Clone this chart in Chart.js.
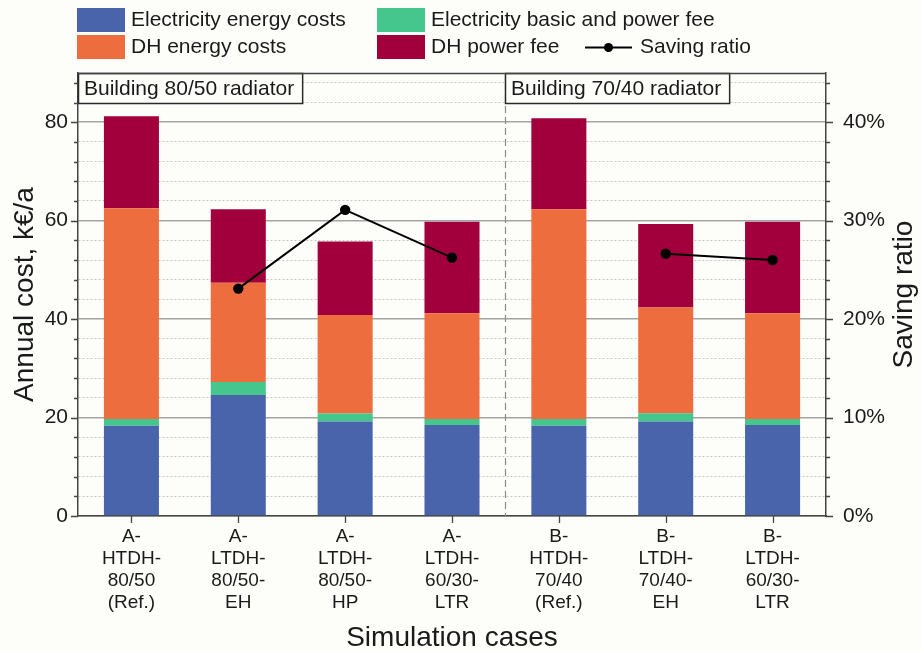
<!DOCTYPE html>
<html>
<head>
<meta charset="utf-8">
<script src="https://cdn.jsdelivr.net/npm/chart.js@4.4.1/dist/chart.umd.min.js"></script>
<style>
  html, body { margin: 0; padding: 0; background: #fdfdfa; }
  #wrap { width: 921px; height: 652px; }
</style>
</head>
<body>
<div id="wrap"><canvas id="c" width="921" height="652"></canvas></div>
<script>
// Simulation cases (multi-line tick labels)
const categories = [
  ['A-', 'HTDH-', '80/50', '(Ref.)'],
  ['A-', 'LTDH-', '80/50-', 'EH'],
  ['A-', 'LTDH-', '80/50-', 'HP'],
  ['A-', 'LTDH-', '60/30-', 'LTR'],
  ['B-', 'HTDH-', '70/40', '(Ref.)'],
  ['B-', 'LTDH-', '70/40-', 'EH'],
  ['B-', 'LTDH-', '60/30-', 'LTR']
];

// Annual cost components, k€/a
const elecEnergy = [18.35, 24.6, 19.2, 18.5, 18.35, 19.2, 18.5];
const elecBasic  = [1.35, 2.6, 1.6, 1.2, 1.35, 1.7, 1.2];
const dhEnergy   = [42.8, 20.2, 20.05, 21.5, 42.6, 21.45, 21.5];
const dhPower    = [18.7, 14.9, 14.9, 18.6, 18.5, 16.95, 18.6];

// Saving ratio, % (no value for the reference cases)
const savingRatio = [null, 23.1, 31.1, 26.25, null, 26.65, 26.0];

// Building groups: label and index of the first case in the group
const groupLabels = ['Building 80/50 radiator', 'Building 70/40 radiator'];
const groupStarts = [0, 4];

const FONT = '"Liberation Sans", Arial, Helvetica, sans-serif';
const INK = '#1a1a1a';
const AXIS = '#454545';

const isMajor = (ctx, step) => ctx.tick && Math.round(ctx.tick.value) % step === 0;

// Tick marks: long for labelled ticks, short for minor ones
const tickMarks = {
  id: 'tickMarks',
  afterDraw(chart) {
    const {ctx, chartArea: a, scales} = chart;
    ctx.save();
    ctx.strokeStyle = AXIS;
    ctx.lineWidth = 1.3;
    ctx.beginPath();
    for (let v = 0; v <= 88; v += 4) {
      const p = Math.round(scales.y.getPixelForValue(v)) + 0.5;
      const len = v % 20 === 0 ? 7 : 4;
      ctx.moveTo(a.left, p); ctx.lineTo(a.left - len, p);
    }
    for (let v = 0; v <= 44; v += 2) {
      const p = Math.round(scales.y1.getPixelForValue(v)) + 0.5;
      const len = v % 10 === 0 ? 7 : 4;
      ctx.moveTo(a.right, p); ctx.lineTo(a.right + len, p);
    }
    categories.forEach((c, i) => {
      const p = Math.round(scales.x.getPixelForValue(i)) + 0.5;
      ctx.moveTo(p, a.bottom); ctx.lineTo(p, a.bottom + 7);
    });
    ctx.stroke();
    // top frame line
    ctx.lineWidth = 1.5;
    ctx.beginPath();
    ctx.moveTo(a.left, a.top + 0.5); ctx.lineTo(a.right, a.top + 0.5);
    ctx.stroke();
    ctx.restore();
  }
};

// Group separator and labelled group boxes
const groups = {
  id: 'groups',
  beforeDatasetsDraw(chart) {
    const {ctx, chartArea: a, scales: {x}} = chart;
    ctx.save();
    ctx.strokeStyle = '#8a8a8a';
    ctx.lineWidth = 1.2;
    ctx.setLineDash([7, 4]);
    groupStarts.slice(1).forEach(s => {
      const px = Math.round((x.getPixelForValue(s - 1) + x.getPixelForValue(s)) / 2) + 0.5;
      ctx.beginPath();
      ctx.moveTo(px, a.top); ctx.lineTo(px, a.bottom);
      ctx.stroke();
    });
    ctx.restore();
  },
  afterDraw(chart) {
    const {ctx, chartArea: a, scales: {x}} = chart;
    ctx.save();
    ctx.font = '21px ' + FONT;
    ctx.textBaseline = 'middle';
    ctx.textAlign = 'left';
    groupLabels.forEach((t, g) => {
      const s = groupStarts[g];
      const left = s === 0 ? a.left : Math.round((x.getPixelForValue(s - 1) + x.getPixelForValue(s)) / 2);
      const w = ctx.measureText(t).width + 14;
      const top = a.top, h = 30;
      ctx.fillStyle = '#fdfdfa';
      ctx.fillRect(left, top, w, h);
      ctx.strokeStyle = '#2a2a2a';
      ctx.lineWidth = 1.5;
      ctx.strokeRect(left + 0.5, top + 0.5, w, h);
      ctx.fillStyle = INK;
      ctx.fillText(t, left + 6, top + h / 2 + 1);
    });
    ctx.restore();
  }
};

// Right axis title (reads bottom to top) and the legend block
const extras = {
  id: 'extras',
  afterDraw(chart) {
    const {ctx, chartArea: a} = chart;
    ctx.save();
    ctx.fillStyle = INK;
    ctx.font = '28px ' + FONT;
    ctx.textAlign = 'center';
    ctx.textBaseline = 'middle';
    ctx.translate(904, (a.top + a.bottom) / 2);
    ctx.rotate(-Math.PI / 2);
    ctx.fillText('Saving ratio', 0, 0);
    ctx.restore();

    // legend: two columns of swatches, line sample at the end of the second row
    const ds = chart.data.datasets;
    const slots = [
      {i: 0, x: 77, y: 8}, {i: 1, x: 377, y: 8},
      {i: 2, x: 77, y: 35}, {i: 3, x: 377, y: 35}
    ];
    ctx.save();
    ctx.font = '21px ' + FONT;
    ctx.textBaseline = 'middle';
    ctx.textAlign = 'left';
    slots.forEach(s => {
      ctx.fillStyle = ds[s.i].backgroundColor;
      ctx.fillRect(s.x, s.y, 48, 24);
      ctx.fillStyle = INK;
      ctx.fillText(ds[s.i].label, s.x + 54, s.y + 12.5);
    });
    const line = ds[4];
    const ly = 47.5;
    ctx.strokeStyle = line.borderColor;
    ctx.lineWidth = 2;
    ctx.beginPath();
    ctx.moveTo(585, ly); ctx.lineTo(632, ly);
    ctx.stroke();
    ctx.fillStyle = line.pointBackgroundColor;
    ctx.beginPath();
    ctx.arc(608.5, ly, 4.5, 0, Math.PI * 2);
    ctx.fill();
    ctx.fillStyle = INK;
    ctx.fillText(line.label, 640, ly);
    ctx.restore();
  }
};

const bar = (label, data, color) => ({
  type: 'bar', label, data, backgroundColor: color, borderWidth: 0,
  barPercentage: 0.515, categoryPercentage: 1, order: 1, yAxisID: 'y'
});

new Chart(document.getElementById('c'), {
  data: {
    labels: categories,
    datasets: [
      bar('Electricity energy costs', elecEnergy, '#4964ab'),
      bar('Electricity basic and power fee', elecBasic, '#44c68c'),
      bar('DH energy costs', dhEnergy, '#ee6d3f'),
      bar('DH power fee', dhPower, '#a1003d'),
      {
        type: 'line', label: 'Saving ratio', data: savingRatio, yAxisID: 'y1',
        borderColor: '#000000', borderWidth: 2, pointRadius: 5.2,
        pointBackgroundColor: '#000000', pointBorderWidth: 0,
        spanGaps: false, tension: 0, order: 0
      }
    ]
  },
  options: {
    responsive: false,
    animation: false,
    devicePixelRatio: 1,
    layout: { padding: { top: 73, left: 0, right: 0, bottom: 0 } },
    plugins: { legend: { display: false }, tooltip: { enabled: false } },
    scales: {
      x: {
        stacked: true,
        offset: true,
        afterFit: s => { s.height = 136; },
        grid: { drawOnChartArea: false, drawTicks: false },
        border: { display: true, color: AXIS, width: 1.5 },
        ticks: {
          autoSkip: false, maxRotation: 0, padding: 10, color: INK,
          font: { family: FONT, size: 19, lineHeight: 1.16 }
        },
        title: {
          display: true, text: 'Simulation cases', color: INK,
          font: { family: FONT, size: 28, lineHeight: 1 },
          padding: { top: 0, bottom: 0 }
        }
      },
      y: {
        stacked: true,
        position: 'left',
        min: 0, max: 90,
        afterFit: s => { s.width = 78; },
        grid: {
          drawTicks: false,
          color: c => isMajor(c, 20) ? '#a4a4a4' : '#c6c6c6',
          lineWidth: c => isMajor(c, 20) ? 1.5 : 1
        },
        border: { display: true, color: AXIS, width: 1.5, dash: c => (c.tick && !isMajor(c, 20)) ? [2, 2] : [] },
        ticks: {
          stepSize: 4, includeBounds: false, autoSkip: false, padding: 10, color: INK,
          font: { family: FONT, size: 21 },
          callback: v => (Math.round(v) % 20 === 0 ? v : '')
        },
        title: {
          display: true, text: 'Annual cost, k€/a', color: INK,
          font: { family: FONT, size: 28, lineHeight: 1.2 },
          padding: { top: 8, bottom: 0 }
        }
      },
      y1: {
        position: 'right',
        min: 0, max: 45,
        afterFit: s => { s.width = 95; },
        grid: { drawOnChartArea: false, drawTicks: false },
        border: { display: true, color: AXIS, width: 1.5 },
        ticks: {
          stepSize: 2, includeBounds: false, autoSkip: false, padding: 17, color: INK,
          font: { family: FONT, size: 21 },
          callback: v => (Math.round(v) % 10 === 0 ? v + '%' : '')
        },
        title: { display: false }
      }
    }
  },
  plugins: [groups, tickMarks, extras]
});
</script>
</body>
</html>
